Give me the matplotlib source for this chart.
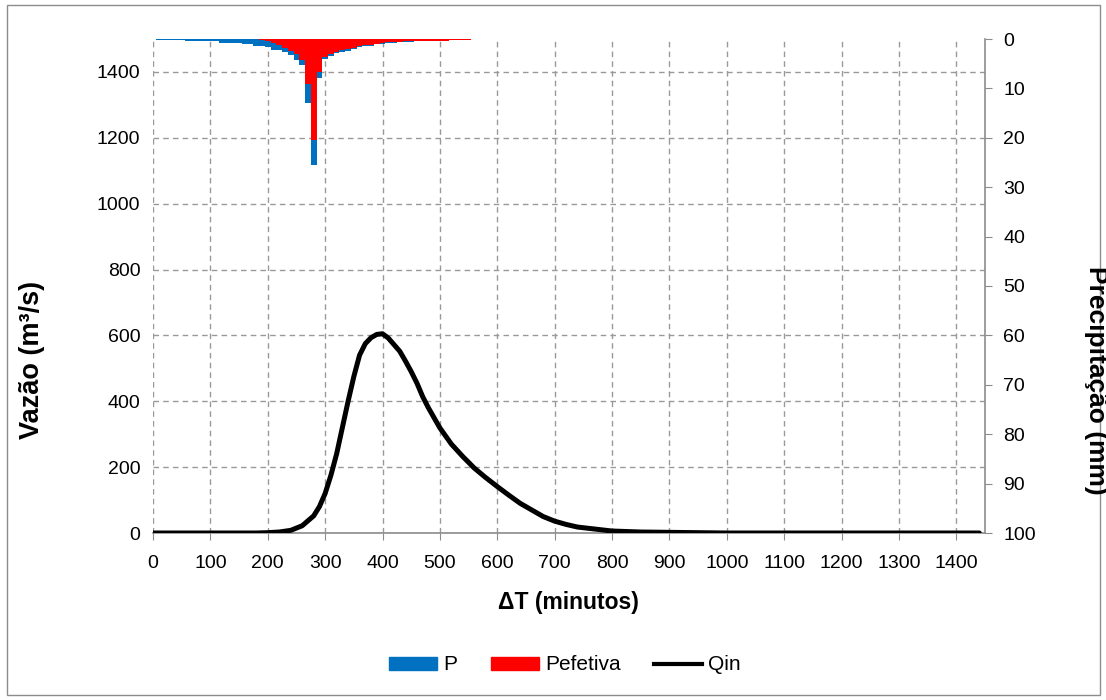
import matplotlib
matplotlib.use("Agg")
import matplotlib.pyplot as plt
from matplotlib.patches import Patch, Rectangle
from matplotlib.lines import Line2D

plt.rcParams['font.family'] = ['Liberation Sans', 'DejaVu Sans']

# hidrograma de entrada (Qin)
t_q = [0, 180, 200, 220, 240, 260, 280, 290, 300, 310, 320, 330, 340, 350, 360,
       370, 380, 390, 400, 410, 420, 430, 440, 450, 460, 470, 480, 500, 520,
       540, 560, 580, 600, 620, 640, 660, 680, 700, 720, 740, 760, 780, 800,
       850, 900, 950, 1000, 1440]
q = [0, 0, 1, 3, 8, 22, 52, 80, 120, 175, 240, 320, 400, 475, 540,
     575, 593, 603, 605, 592, 572, 552, 522, 490, 455, 414, 380, 319, 270,
     232, 197, 168, 141, 115, 90, 70, 50, 36, 26, 18, 14, 10, 6,
     3, 2, 1, 0, 0]

# hietograma (blocos de 10 min)
t_p = list(range(10, 560, 10))
p = [0.3, 0.3, 0.3, 0.3, 0.3, 0.5, 0.5, 0.5, 0.5, 0.5, 0.5, 0.8, 0.8, 0.8, 0.8,
     1.0, 1.0, 1.35, 1.35, 1.7, 2.2, 2.2, 2.7, 3.25, 4.2, 5.2, 13.0, 25.5, 7.8,
     4.1, 3.4, 2.9, 2.6, 2.4, 2.1, 1.7, 1.5, 1.35, 1.1, 1.0, 0.8, 0.75, 0.7,
     0.6, 0.55, 0.5, 0.5, 0.45, 0.45, 0.35, 0.35, 0.3, 0.3, 0.3, 0.3]
pef = [0, 0, 0, 0, 0, 0, 0, 0, 0, 0, 0, 0, 0, 0, 0,
       0, 0, 0, 0.3, 0.5, 0.9, 1.3, 1.8, 2.4, 3.0, 4.2, 9.1, 20.5, 6.6,
       3.7, 3.0, 2.6, 2.3, 2.1, 1.8, 1.5, 1.3, 1.2, 0.95, 0.85, 0.7, 0.65, 0.6,
       0.5, 0.45, 0.4, 0.4, 0.38, 0.38, 0.33, 0.33, 0.3, 0.3, 0.3, 0.3]

grey = '#8c8c8c'

fig = plt.figure(figsize=(11.06, 7.0), dpi=100)
ax = fig.add_axes([153/1106, (700-533)/700, 832/1106, 494/700])

ax.plot(t_q, q, color='black', lw=3.6, zorder=3, solid_joinstyle='round',
        solid_capstyle='round')
ax.set_xlim(0, 1450)
ax.set_ylim(0, 1500)
ax.set_xticks(range(0, 1500, 100))
ax.set_yticks(range(0, 1500, 200))
ax.grid(True, color='#999999', linestyle=(0, (4, 3)), linewidth=1)
ax.set_axisbelow(True)
for s in ['top', 'left', 'right']:
    ax.spines[s].set_visible(False)
ax.spines['bottom'].set_color(grey)
ax.spines['bottom'].set_linewidth(1.2)
ax.tick_params(axis='x', length=5, color=grey, labelsize=14, pad=11)
ax.tick_params(axis='y', length=0, labelsize=14, pad=9)

ax2 = ax.twinx()
ax2.bar(t_p, p, width=10, color='#0070C0', linewidth=0)
ax2.bar(t_p, pef, width=10, color='#FF0000', linewidth=0)
ax2.set_ylim(100, 0)
ax2.set_yticks(range(0, 101, 10))
for s in ['top', 'left', 'bottom']:
    ax2.spines[s].set_visible(False)
ax2.spines['right'].set_color(grey)
ax2.spines['right'].set_linewidth(1.2)
ax2.tick_params(axis='y', length=5, color=grey, labelsize=14, pad=8)

fig.text(568/1106, 1-603/700, 'ΔT (minutos)', ha='center', va='center',
         fontsize=16.5, fontweight='bold')
fig.text(32/1106, 1-360/700, 'Vazão (m³/s)', ha='center', va='center',
         rotation=90, fontsize=19.5, fontweight='bold')
fig.text(1096/1106, 1-380/700, 'Precipitação (mm)', ha='center', va='center',
         rotation=270, fontsize=19, fontweight='bold')

handles = [Patch(color='#0070C0'), Patch(color='#FF0000'),
           Line2D([], [], color='black', lw=3)]
fig.legend(handles, ['P', 'Pefetiva', 'Qin'], loc='center',
           bbox_to_anchor=(565/1106, 1-665/700), ncol=3, frameon=False,
           fontsize=15, handlelength=2.3, handleheight=0.6,
           handletextpad=0.3, columnspacing=1.6)

fig.patches.append(Rectangle((7/1106, 5/700), 1093/1106, 690/700,
                             transform=fig.transFigure, fill=False,
                             edgecolor=grey, lw=1))

fig.savefig('out.png', dpi=100)
